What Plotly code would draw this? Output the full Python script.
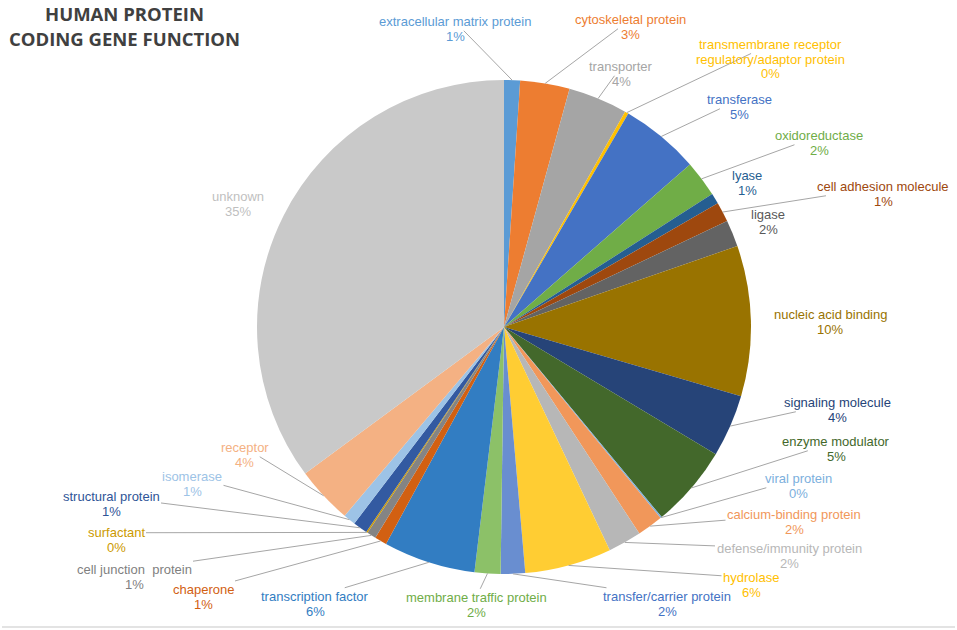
import math
import plotly.graph_objects as go

labels = [
    "extracellular matrix protein", "cytoskeletal protein", "transporter",
    "transmembrane receptor<br>regulatory/adaptor protein", "transferase",
    "oxidoreductase", "lyase", "cell adhesion molecule", "ligase",
    "nucleic acid binding", "signaling molecule", "enzyme modulator",
    "viral protein", "calcium-binding protein", "defense/immunity protein",
    "hydrolase", "transfer/carrier protein", "membrane traffic protein",
    "transcription factor", "chaperone", "cell junction  protein",
    "surfactant", "structural protein", "isomerase", "receptor", "unknown",
]
values = [1.05, 3.25, 3.9, 0.24, 5.2, 2.4, 0.7, 1.3, 1.75, 9.9, 4.1, 5.4,
          0.1, 1.7, 2.2, 5.7, 1.6, 1.7, 6.05, 0.8, 0.6, 0.1, 0.95, 0.8,
          3.75, 35.3]
colors = ["#5B9BD5", "#ED7D31", "#A5A5A5", "#FFC000", "#4472C4", "#70AD47",
          "#255E91", "#9E480E", "#636363", "#997300", "#264478", "#43682B",
          "#7CAFDD", "#F1975A", "#B7B7B7", "#FFCD33", "#698ED0", "#8CC168",
          "#327DC2", "#D26012", "#848484", "#CC9A00", "#335AA1", "#9DC3E6",
          "#F4B183", "#C9C9C9"]
text_colors = ["#5B9BD5", "#ED7D31", "#A5A5A5", "#FFC000", "#4472C4", "#70AD47",
               "#255E91", "#9E480E", "#595959", "#997300", "#264478", "#43682B",
               "#7CAFDD", "#F1975A", "#B7B7B7", "#FFC000", "#4472C4", "#70AD47",
               "#327DC2", "#D26012", "#7F7F7F", "#CC9A00", "#2F5597", "#9DC3E6",
               "#F4B183", "#BFBFBF"]
title_lines = ["HUMAN PROTEIN", "CODING GENE FUNCTION"]

# ---- layout (page pixels) ----
W, H = 957, 630
PIE_CX, PIE_CY, PIE_R = 504, 327, 247
LINE_STEP = 14.5

label_pos = [(455, 29), (630, 27), (621, 74), (770, 59), (739, 107),
             (819, 143), (747, 183), (883, 194), (768, 222), (830, 322),
             (837, 410), (836, 449), (798, 486), (794, 522), (789, 556),
             (751, 585), (667, 604), (476, 605), (315, 604), (203, 597),
             (134, 577), (116, 540), (111, 504), (192, 484), (245, 455),
             (238, 204)]
leader = [True, True, True, True, True, True, False, True, False, False,
          True, True, True, True, True, True, True, True, True, True,
          True, True, True, True, True, False]
title_y = [13, 38]


def px(x):
    return x / W


def py(y):
    return 1 - y / H


dom_x = [px(PIE_CX - PIE_R), px(PIE_CX + PIE_R)]
dom_y = [py(PIE_CY + PIE_R), py(PIE_CY - PIE_R)]

fig = go.Figure(go.Pie(
    labels=labels, values=values, sort=False, direction="clockwise",
    rotation=0,
    marker=dict(colors=colors, line=dict(width=0)),
    textinfo="none",
    automargin=False,
    domain=dict(x=dom_x, y=dom_y),
    showlegend=False,
    hoverinfo="label+percent",
))

total = sum(values)
annotations = []
cum = 0.0
for lab, v, tc, (lx, ly), ld in zip(labels, values, text_colors, label_pos, leader):
    theta = 2 * math.pi * (cum + v / 2) / total
    cum += v
    pct = round(v / total * 100)
    lines = lab.split("<br>") + [f"{pct}%"]
    n = len(lines)
    font = dict(family="Liberation Sans, Arial", size=13, color=tc)
    tx = PIE_CX + PIE_R * math.sin(theta)
    ty = PIE_CY - PIE_R * math.cos(theta)
    for i, line in enumerate(lines):
        yc = ly + (i - (n - 1) / 2) * LINE_STEP
        if ld and i == 0:
            annotations.append(dict(
                x=px(tx), y=py(ty), xref="paper", yref="paper",
                ax=lx - tx, ay=yc - ty, text=line, showarrow=True,
                arrowhead=0, arrowwidth=1, arrowcolor="#A6A6A6", standoff=0,
                font=font, align="center",
            ))
        else:
            annotations.append(dict(
                x=px(lx), y=py(yc), xref="paper", yref="paper",
                text=line, showarrow=False, font=font, align="center",
                xanchor="center", yanchor="middle",
            ))

for t, ty_ in zip(title_lines, title_y):
    annotations.append(dict(
        text=f"<b>{t}</b>",
        x=px(124), y=py(ty_), xref="paper", yref="paper",
        xanchor="center", yanchor="middle", showarrow=False, align="center",
        font=dict(family="Open Sans", size=18.5, color="#404040"),
    ))

fig.update_layout(
    width=W, height=H,
    margin=dict(l=0, r=0, t=0, b=0),
    paper_bgcolor="white",
    annotations=annotations,
    shapes=[dict(type="line", xref="paper", yref="paper",
                 x0=px(2), x1=px(955), y0=py(627), y1=py(627),
                 line=dict(color="#E3E3E3", width=2))],
)

fig.write_html("out.html",
               config={"displayModeBar": False},
               post_script="document.body.style.margin='0';")
